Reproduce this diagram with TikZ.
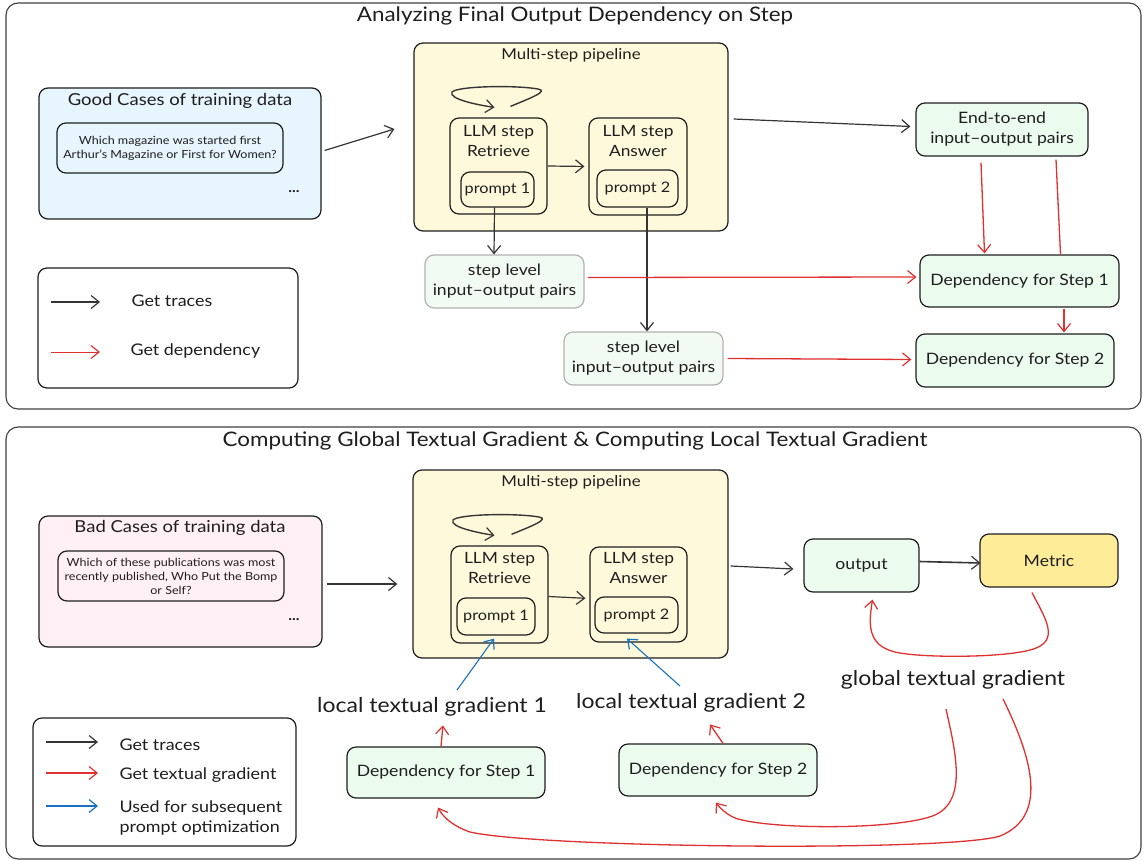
\documentclass[tikz,border=0pt]{standalone}
\usepackage{fontspec}
\setmainfont{Lato}[FakeStretch=1.12]
\usetikzlibrary{arrows.meta,calc}
\definecolor{ink}{HTML}{1E1E1E}
\definecolor{redc}{HTML}{E03131}
\definecolor{bluec}{HTML}{1971C2}
\definecolor{lblue}{HTML}{E7F5FF}
\definecolor{lpink}{HTML}{FFF0F6}
\definecolor{lyel}{HTML}{FFF9DB}
\definecolor{lgreen}{HTML}{EBFBEE}
\definecolor{pgreen}{HTML}{F2FBF3}
\definecolor{myel}{HTML}{FFEC99}
\tikzset{
  panel/.style={draw=ink!85, line width=1.1pt, rounded corners=12pt},
  bx/.style={draw=ink, line width=1.2pt, rounded corners=9pt, inner sep=0pt, align=center},
  softbx/.style={draw=gray!60, line width=1.2pt, rounded corners=9pt, inner sep=0pt, align=center, fill=pgreen},
  ttl/.style={font=\fontsize{20}{24}\selectfont, text=ink},
  hd/.style={font=\fontsize{16.5}{20}\selectfont, text=ink},
  qtxt/.style={font=\fontsize{11.2}{14}\selectfont, text=ink, align=center},
  pl/.style={font=\fontsize{15}{18}\selectfont, text=ink},
  llm/.style={font=\fontsize{15.5}{19.5}\selectfont, text=ink, align=center},
  prm/.style={font=\fontsize{14.5}{18}\selectfont, text=ink, align=center},
  dtxt/.style={font=\fontsize{15.7}{20}\selectfont, text=ink, align=center},
  grad/.style={font=\fontsize{20.5}{24}\selectfont, text=ink},
  legt/.style={font=\fontsize{16}{20}\selectfont, text=ink, align=left, anchor=west},
  tip/.style={-{Straight Barb[length=8pt,width=13pt,line width=1.2pt]}},
  blk/.style={tip, draw=ink!90, line width=1.2pt},
  rd/.style={tip, draw=redc, line width=1.3pt},
  rdline/.style={draw=redc, line width=1.3pt},
  bl/.style={tip, draw=bluec, line width=1.1pt}
}
\begin{document}
\begin{tikzpicture}[x=1pt,y=-1pt]
\useasboundingbox (0,0) rectangle (1145,861);
\fill[white] (0,0) rectangle (1145,861);

% ================= TOP PANEL =================
\node[panel, minimum width=1135pt, minimum height=406pt] (topP) at (573.5,206) {};
\node[ttl] (titleTop) at (575,16) {Analyzing Final Output Dependency on Step};

\node[bx, fill=lblue, minimum width=282pt, minimum height=131pt] (good) at (180,153.5) {};
\node[hd] (goodT) at (180,101) {Good Cases of training data};
\node[bx, fill=lblue, minimum width=226pt, minimum height=50pt, qtxt] (goodQ) at (170,148) {Which magazine was started first\\Arthur's Magazine or First for Women?};
\node[font=\bfseries\fontsize{14}{16}\selectfont, text=ink] (gdots) at (294,192) {...};

\node[bx, fill=lyel, minimum width=314pt, minimum height=188pt] (pipe1) at (571,137) {};
\node[pl] (pl1) at (571,55) {Multi-step pipeline};

\node[bx, minimum width=97pt, minimum height=96pt] (ret1) at (498.5,166) {};
\node[llm] (ret1t) at (498.5,141) {LLM step\\Retrieve};
\node[bx, minimum width=73pt, minimum height=35pt, prm] (p1a) at (497.5,189.5) {prompt 1};

\node[bx, minimum width=98pt, minimum height=97pt] (ans1) at (638,166.5) {};
\node[llm] (ans1t) at (638,141) {LLM step\\Answer};
\node[bx, minimum width=81pt, minimum height=37pt, prm] (p2a) at (637.5,188.5) {prompt 2};

\node[bx, fill=lgreen, minimum width=172pt, minimum height=53pt, dtxt] (e2e) at (1002,129.5) {End-to-end\\input--output pairs};
\node[softbx, minimum width=159pt, minimum height=53pt, dtxt] (sl1) at (504.5,281.5) {step level\\input--output pairs};
\node[softbx, minimum width=159pt, minimum height=53pt, dtxt] (sl2) at (643.5,358.5) {step level\\input--output pairs};
\node[bx, fill=lgreen, minimum width=199pt, minimum height=52pt, dtxt] (dep1) at (1019.5,281) {Dependency for Step 1};
\node[bx, fill=lgreen, minimum width=198pt, minimum height=53pt, dtxt] (dep2) at (1015,360.5) {Dependency for Step 2};

\node[bx, minimum width=260pt, minimum height=120pt] (leg1) at (168,328) {};
\node[legt] (leg1a) at (128,301) {Get traces};
\node[legt] (leg1b) at (127,351) {Get dependency};
\draw[blk] (51,302) -- (100,302);
\draw[rd, line width=1pt] (51,352) -- (100,352);

% loop arrow top
\draw[blk, line width=1.4pt] ([shift={(12,-11)}]ret1.north) .. controls (528,99) and (550,91) .. (538,89)
  .. controls (515,85) and (458,86) .. (452,92) .. controls (448,99) and (478,105) .. ([shift={(-4,-10)}]ret1.north);

% top connectors
\draw[blk] ([shift={(3,-3)}]good.east) -- ([shift={(-19,-8)}]pipe1.west);
\draw[blk, shorten >=4pt] (ret1.east) -- (ans1.west);
\draw[blk] ([shift={(5,-18)}]pipe1.east) -- ([shift={(-5,-3)}]e2e.west);
\draw[blk] ([xshift=-3]p1a.south) -- ([xshift=-10.5]sl1.north);
\draw[blk] ([xshift=9.5]p2a.south) -- ([xshift=3.5]sl2.north);
\draw[rd] ([shift={(3,-4)}]sl1.east) -- ([shift={(-3,-4)}]dep1.west);
\draw[rd] ([shift={(4,0)}]sl2.east) -- ([shift={(-4,-1)}]dep2.west);
\draw[rd] ([shift={(-21,6)}]e2e.south) -- ([shift={(-35,-1)}]dep1.north);
\draw[rdline] ([shift={(54,3)}]e2e.south) -- ([shift={(41,0)}]dep1.north);
\draw[rd] ([shift={(44.5,1)}]dep1.south) -- ([shift={(49,-1)}]dep2.north);

% ================= BOTTOM PANEL =================
\node[panel, minimum width=1135pt, minimum height=432pt] (botP) at (573.5,643) {};
\node[ttl] (titleBot) at (575,441) {Computing Global Textual Gradient \& Computing Local Textual Gradient};

\node[bx, fill=lpink, minimum width=283pt, minimum height=131pt] (bad) at (180.5,581.5) {};
\node[hd] (badT) at (180,528) {Bad Cases of training data};
\node[bx, fill=lpink, minimum width=226pt, minimum height=50pt, qtxt] (badQ) at (171,576) {Which of these publications was most\\recently published, Who Put the Bomp\\or Self?};
\node[font=\bfseries\fontsize{14}{16}\selectfont, text=ink] (bdots) at (294,620) {...};

\node[bx, fill=lyel, minimum width=315pt, minimum height=188pt] (pipe2) at (570.5,564) {};
\node[pl] (pl2) at (571,482) {Multi-step pipeline};

\node[bx, minimum width=97pt, minimum height=97pt] (ret2) at (499.5,594.5) {};
\node[llm] (ret2t) at (499.5,568) {LLM step\\Retrieve};
\node[bx, minimum width=78pt, minimum height=37pt, prm] (p1b) at (496,616.5) {prompt 1};

\node[bx, minimum width=97pt, minimum height=95pt] (ans2) at (638.5,594.5) {};
\node[llm] (ans2t) at (638.5,568) {LLM step\\Answer};
\node[bx, minimum width=83pt, minimum height=36pt, prm] (p2b) at (636.5,615) {prompt 2};

\node[bx, fill=lgreen, minimum width=115pt, minimum height=53pt, dtxt] (outp) at (861.5,565.5) {output};
\node[bx, fill=myel, minimum width=138pt, minimum height=53pt, dtxt] (metric) at (1049,560.5) {Metric};

\node[bx, fill=lgreen, minimum width=198pt, minimum height=51pt, dtxt] (dep1b) at (446,772.5) {Dependency for Step 1};
\node[bx, fill=lgreen, minimum width=198pt, minimum height=52pt, dtxt] (dep2b) at (718,770) {Dependency for Step 2};

\node[grad] (lg1) at (432,707) {local textual gradient 1};
\node[grad] (lg2) at (691,703) {local textual gradient 2};
\node[grad] (gg) at (953,680) {global textual gradient};

\node[bx, minimum width=263pt, minimum height=128pt] (leg2) at (164.5,782) {};
\node[legt] (leg2a) at (116,745) {Get traces};
\node[legt] (leg2b) at (116,775) {Get textual gradient};
\node[legt] (leg2c) at (116,818) {Used for subsequent\\prompt optimization};
\draw[blk, line width=1.4pt] (46,742) -- (98,742);
\draw[rd, line width=1.4pt] (46,773) -- (98,773);
\draw[bl, line width=1.4pt] (46,806) -- (98,806);

% loop arrow bottom
\draw[blk, line width=1.4pt] ([shift={(12,-11)}]ret2.north) .. controls (529,527) and (551,519) .. (539,517)
  .. controls (516,513) and (459,514) .. (453,520) .. controls (449,527) and (479,533) .. ([shift={(-5,-10)}]ret2.north);

% bottom connectors
\draw[blk] ([shift={(4,2.5)}]bad.east) -- ([shift={(-15,20)}]pipe2.west);
\draw[blk, shorten >=4pt] ([yshift=-2]ret2.east) -- ([yshift=-4]ans2.west);
\draw[blk] ([shift={(2,2)}]pipe2.east) -- ([shift={(-10,3.5)}]outp.west);
\draw[blk, line width=1.6pt] ([shift={(0,-4)}]outp.east) -- ([shift={(1,2.5)}]metric.west);

\draw[bl] ([shift={(25,-4)}]lg1.north) -- ([shift={(-2,3)}]p1b.south);
\draw[bl] ([shift={(-11,-4)}]lg2.north) -- ([shift={(-9.5,5)}]p2b.south);

\draw[rd] ([xshift=-5]dep1b.north) -- ([shift={(-3,-21)}]dep1b.north);
\draw[rd] ([xshift=5]dep2b.north) -- ([shift={(-8,-19)}]dep2b.north);

% global gradient curves
\draw[rd] ([shift={(-17,5)}]metric.south) .. controls (1045,618) and (1062,642) .. (1030,650)
  .. controls (1000,658) and (920,658) .. (895,652) .. controls (866,645) and (869,622) .. ([shift={(11,7)}]outp.south);
\draw[rd] ([shift={(-7,16)}]gg.south) .. controls (955,750) and (968,800) .. (935,815)
  .. controls (900,830) and (770,830) .. (735,818) .. controls (726,814) and (720,808) .. ([shift={(-2,6)}]dep2b.south);
\draw[rd] ([shift={(50,6)}]gg.south) .. controls (1028,750) and (1052,815) .. (1000,836)
  .. controls (950,852) and (540,848) .. (470,832) .. controls (450,825) and (442,815) .. ([shift={(-8,9)}]dep1b.south);

\end{tikzpicture}
\end{document}
